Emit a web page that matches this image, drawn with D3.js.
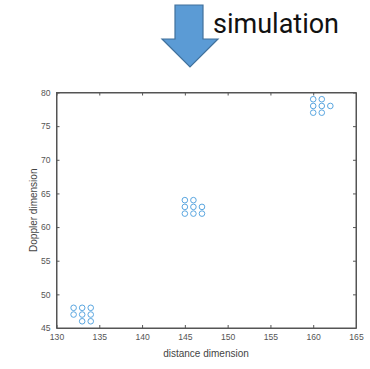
<!DOCTYPE html>
<html>
<head>
<meta charset="utf-8">
<script src="https://cdn.jsdelivr.net/npm/d3@7"></script>
<style>
  body { margin: 0; background: #fff; }
  svg { display: block; }
  .axis text { font-family: "Liberation Sans", Arial, sans-serif; font-size: 8.6px; fill: #555; }
  .axis path, .axis line { stroke: #555; }
</style>
</head>
<body>
<div id="chart"></div>
<script>
// target points (distance, Doppler)
const distance = [132, 132, 133, 133, 133, 134, 134, 134,
  145, 145, 145, 146, 146, 146, 147, 147,
  160, 160, 160, 161, 161, 161, 162];
const doppler = [48, 47, 48, 47, 46, 48, 47, 46,
  64, 63, 62, 64, 63, 62, 63, 62,
  79, 78, 77, 79, 78, 77, 78];
const xTicks = [130, 135, 140, 145, 150, 155, 160, 165];
const yTicks = [45, 50, 55, 60, 65, 70, 75, 80];
const caption = 'simulation';

const width = 370, height = 369;
const margin = {top: 92.5, right: 14, bottom: 41, left: 56.5};
const plotW = width - margin.left - margin.right;
const plotH = height - margin.top - margin.bottom;

const svg = d3.select('#chart').append('svg')
  .attr('width', width)
  .attr('height', height);

// down arrow + caption
const arrow = d3.path();
arrow.moveTo(175, 5);
arrow.lineTo(203, 5);
arrow.lineTo(203, 39);
arrow.lineTo(218, 39);
arrow.lineTo(190, 67);
arrow.lineTo(162, 39);
arrow.lineTo(175, 39);
arrow.closePath();
svg.append('path')
  .attr('d', arrow.toString())
  .attr('fill', '#5b9bd5')
  .attr('stroke', '#41719c')
  .attr('stroke-width', 1.2);

svg.append('text')
  .attr('x', 213)
  .attr('y', 33)
  .attr('font-family', 'Roboto, sans-serif')
  .attr('font-size', 27)
  .attr('fill', '#111')
  .text(caption);

const graph = svg.append('g')
  .attr('transform', `translate(${margin.left},${margin.top})`);

const x = d3.scaleLinear().domain([130, 165]).range([0, plotW]);
const y = d3.scaleLinear().domain([45, 80]).range([plotH, 0]);

// box
graph.append('rect')
  .attr('width', plotW)
  .attr('height', plotH)
  .attr('fill', '#fff')
  .attr('stroke', '#555')
  .attr('stroke-width', 1);

const xAxis = graph.append('g')
  .attr('class', 'axis')
  .attr('transform', `translate(0,${plotH})`)
  .call(d3.axisBottom(x).tickValues(xTicks).tickSizeInner(-3).tickSizeOuter(0).tickPadding(6));
const xTop = graph.append('g')
  .attr('class', 'axis')
  .call(d3.axisTop(x).tickValues(xTicks).tickSizeInner(-3).tickSizeOuter(0).tickFormat(''));
const yAxis = graph.append('g')
  .attr('class', 'axis')
  .call(d3.axisLeft(y).tickValues(yTicks).tickSizeInner(-3).tickSizeOuter(0).tickPadding(6));
const yRight = graph.append('g')
  .attr('class', 'axis')
  .attr('transform', `translate(${plotW},0)`)
  .call(d3.axisRight(y).tickValues(yTicks).tickSizeInner(-3).tickSizeOuter(0).tickFormat(''));

svg.selectAll('.axis .domain').attr('stroke', '#555');

// axis titles
svg.append('text')
  .attr('x', 206)
  .attr('y', 357)
  .attr('text-anchor', 'middle')
  .attr('font-family', '"Liberation Sans", Arial, sans-serif')
  .attr('font-size', 10)
  .attr('fill', '#444')
  .text('distance dimension');

svg.append('text')
  .attr('transform', `translate(37,${margin.top + plotH / 2}) rotate(-90)`)
  .attr('text-anchor', 'middle')
  .attr('font-family', '"Liberation Sans", Arial, sans-serif')
  .attr('font-size', 10)
  .attr('fill', '#444')
  .text('Doppler dimension');

// markers
graph.selectAll('circle.pt')
  .data(distance.map((d, i) => ({d, v: doppler[i]})))
  .enter()
  .append('circle')
  .attr('class', 'pt')
  .attr('cx', p => x(p.d))
  .attr('cy', p => y(p.v))
  .attr('r', 2.8)
  .attr('fill', 'none')
  .attr('stroke', '#5aa6e0')
  .attr('stroke-width', 1);
</script>
</body>
</html>
